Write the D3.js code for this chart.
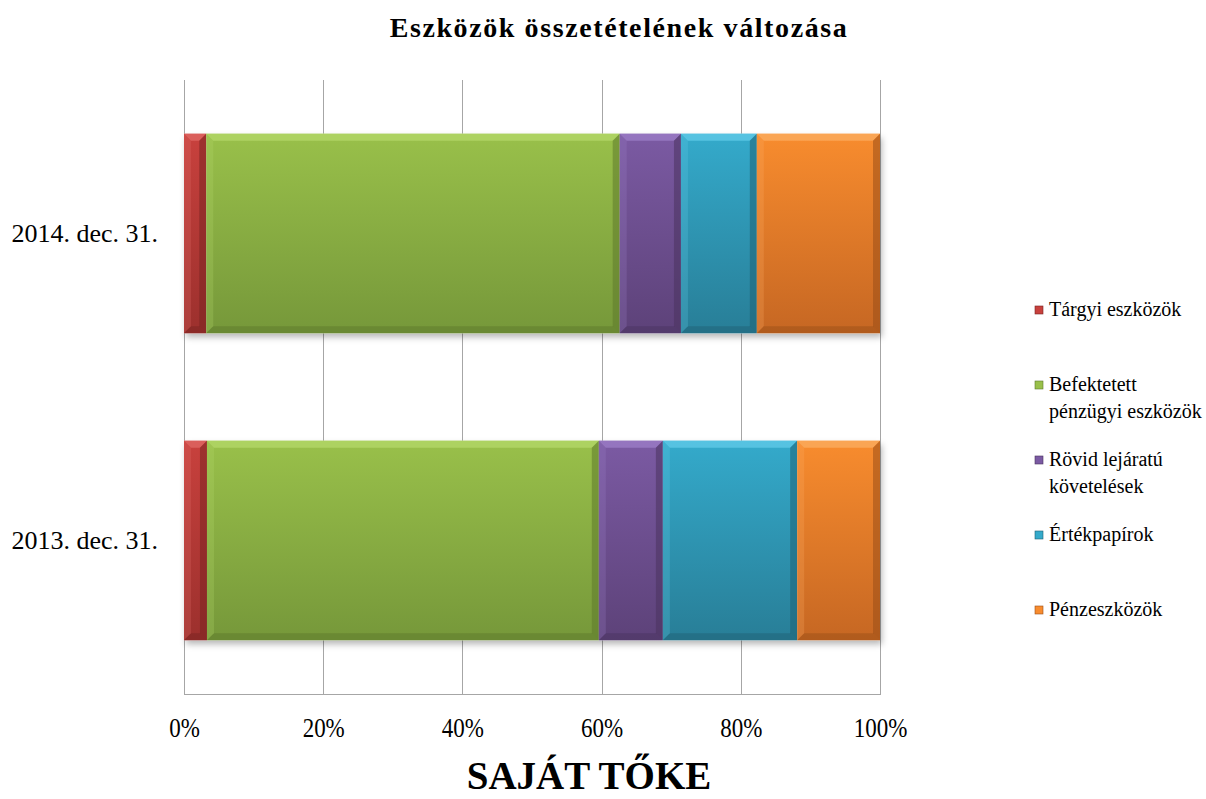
<!DOCTYPE html>
<html><head><meta charset="utf-8">
<script src="https://cdn.jsdelivr.net/npm/d3@7"></script>
<style>
html,body{margin:0;padding:0;background:#fff;}
svg{display:block;}
svg text{font-family:"Liberation Serif","Times New Roman",serif;}
</style></head>
<body>
<svg id="chart" width="1206" height="799"></svg>
<script>
const categories = ["2014. dec. 31.", "2013. dec. 31."];
const seriesNames = ["Tárgyi eszközök", "Befektetett pénzügyi eszközök", "Rövid lejáratú követelések", "Értékpapírok", "Pénzeszközök"];
const legendLines = [["Tárgyi eszközök"], ["Befektetett", "pénzügyi eszközök"], ["Rövid lejáratú", "követelések"], ["Értékpapírok"], ["Pénzeszközök"]];
const tagyi = [3.2, 3.3];
const befektetett = [59.4, 56.3];
const rovid = [8.8, 9.2];
const ertekpapir = [10.9, 19.3];
const penz = [17.7, 11.9];
const tickValues = [0, 0.2, 0.4, 0.6, 0.8, 1.0];
const title = "Eszközök összetételének változása";
const bottomTitle = "SAJÁT TŐKE";

const colors = [
  {top:"#c8413d", bot:"#9c302d", hi:"#e06a66", lo:"#7a2422"},
  {top:"#99c04a", bot:"#76983a", hi:"#b4d86a", lo:"#5e7a2c"},
  {top:"#7b5aa3", bot:"#5d4279", hi:"#9d7fc8", lo:"#4a335f"},
  {top:"#34aacb", bot:"#287e97", hi:"#62cbe8", lo:"#1f6276"},
  {top:"#f88c2e", bot:"#c66723", hi:"#fbad62", lo:"#9b4f18"}
];
const SERIF = '"Liberation Serif", "Times New Roman", serif';

const svg = d3.select("#chart");
const pLeft = 184, pRight = 880, pTop = 80, pBottom = 694;

const seriesVals = [tagyi, befektetett, rovid, ertekpapir, penz];
const rows = categories.map((c, i) => {
  const o = {cat: c};
  seriesNames.forEach((s, j) => o[s] = seriesVals[j][i]);
  return o;
});
const stack = d3.stack().keys(seriesNames).offset(d3.stackOffsetExpand);
const stacked = stack(rows);

const x = d3.scaleLinear().domain([0, 1]).range([pLeft, pRight]);
const y = d3.scaleBand().domain(categories).range([pTop, pBottom]).paddingInner(0.35).paddingOuter(0.175);

const defs = svg.append("defs");
colors.forEach((c, i) => {
  const g = defs.append("linearGradient").attr("id", "g" + i).attr("x1", 0).attr("y1", 0).attr("x2", 0).attr("y2", 1);
  g.append("stop").attr("offset", "0%").attr("stop-color", c.top);
  g.append("stop").attr("offset", "100%").attr("stop-color", c.bot);
});
const f = defs.append("filter").attr("id", "shadow").attr("x", "-5%").attr("y", "-5%").attr("width", "110%").attr("height", "120%");
f.append("feDropShadow").attr("dx", 2).attr("dy", 4).attr("stdDeviation", 3).attr("flood-color", "#000").attr("flood-opacity", 0.28);

// gridlines
const grid = svg.append("g");
grid.selectAll("line.v").data(tickValues).join("line")
  .attr("x1", d => Math.round(x(d)) + 0.5).attr("x2", d => Math.round(x(d)) + 0.5)
  .attr("y1", pTop).attr("y2", pBottom)
  .attr("stroke", "#a6a6a6").attr("stroke-width", 1);
grid.append("line").attr("x1", pLeft).attr("x2", pRight + 1).attr("y1", pBottom + 0.5).attr("y2", pBottom + 0.5)
  .attr("stroke", "#a6a6a6").attr("stroke-width", 1);

// bars
const bw = y.bandwidth();
const b = 7;
const barsG = svg.append("g");
categories.forEach(cat => {
  barsG.append("rect").attr("x", x(0)).attr("y", y(cat)).attr("width", x(1) - x(0)).attr("height", bw)
    .attr("fill", "#fff").attr("filter", "url(#shadow)");
});
stacked.forEach((s, i) => {
  const c = colors[i];
  s.forEach(d => {
    const x0 = x(d[0]), x1 = x(d[1]);
    const y0 = y(d.data.cat), y1 = y0 + bw;
    const g = barsG.append("g");
    g.append("rect").attr("x", x0).attr("y", y0).attr("width", x1 - x0).attr("height", bw).attr("fill", "url(#g" + i + ")");
    const bb = Math.min(b, (x1 - x0) / 2);
    g.append("polygon").attr("points", [[x0, y0], [x1, y0], [x1 - bb, y0 + bb], [x0 + bb, y0 + bb]].join(" "))
      .attr("fill", c.hi).attr("opacity", 0.75);
    g.append("polygon").attr("points", [[x0, y0], [x0 + bb, y0 + bb], [x0 + bb, y1 - bb], [x0, y1]].join(" "))
      .attr("fill", c.hi).attr("opacity", 0.25);
    g.append("polygon").attr("points", [[x1, y0], [x1 - bb, y0 + bb], [x1 - bb, y1 - bb], [x1, y1]].join(" "))
      .attr("fill", c.lo).attr("opacity", 0.55);
    g.append("polygon").attr("points", [[x0, y1], [x0 + bb, y1 - bb], [x1 - bb, y1 - bb], [x1, y1]].join(" "))
      .attr("fill", c.lo).attr("opacity", 0.5);
  });
});

// x axis labels (slightly tall glyphs like the reference)
const xAxis = d3.axisBottom(x).tickValues(tickValues).tickFormat(d3.format(".0%")).tickSize(0).tickPadding(0);
const xg = svg.append("g").attr("transform", `translate(0,${pBottom + 43})`).call(xAxis);
xg.select(".domain").remove();
xg.attr("font-family", null).attr("font-size", null);
xg.selectAll("text").style("font-family", SERIF).style("font-size", "23px").attr("fill", "#000")
  .attr("dy", 0).attr("y", 0).attr("transform", "scale(1,1.2)");

// y axis labels
const yAxis = d3.axisLeft(y).tickSize(0).tickPadding(26);
const yg = svg.append("g").attr("transform", `translate(${pLeft},0)`).call(yAxis);
yg.select(".domain").remove();
yg.attr("font-family", null).attr("font-size", null);
yg.selectAll("text").style("font-family", SERIF).style("font-size", "26px").attr("fill", "#000");

// title
svg.append("text").attr("x", 619).attr("y", 37).attr("text-anchor", "middle")
  .style("font-family", SERIF).style("font-size", "28px").style("letter-spacing", "1.6px")
  .attr("font-weight", "bold").attr("fill", "#000").text(title);

// bottom title
svg.append("text").attr("x", 589).attr("y", 789).attr("text-anchor", "middle")
  .style("font-family", SERIF).style("font-size", "39px")
  .attr("font-weight", "bold").attr("fill", "#000").text(bottomTitle);

// legend
const leg = svg.append("g").attr("transform", "translate(1035,316)");
legendLines.forEach((lines, i) => {
  const g = leg.append("g").attr("transform", `translate(0,${i * 75})`);
  g.append("rect").attr("x", 0).attr("y", -10).attr("width", 8).attr("height", 8).attr("fill", colors[i].top)
    .attr("stroke", colors[i].lo).attr("stroke-width", 0.6);
  lines.forEach((t, k) => {
    g.append("text").attr("x", 14).attr("y", k * 27)
      .style("font-family", SERIF).style("font-size", "20px")
      .attr("fill", "#000").text(t);
  });
});
</script>
</body></html>
